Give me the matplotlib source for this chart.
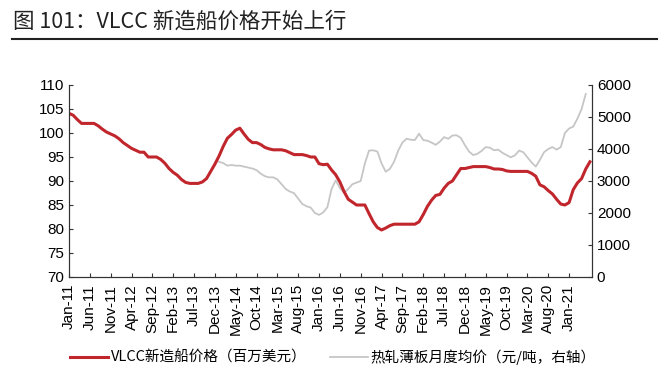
import numpy as np
import pandas as pd
import matplotlib
matplotlib.use("Agg")
import matplotlib.pyplot as plt
from matplotlib.lines import Line2D

# monthly data, Jan-11 .. Jun-21
months = pd.date_range("2011-01-01", periods=126, freq="MS")

vlcc_price = [
    104.1, 103.7, 102.8, 102.0, 102.0, 102.0, 102.0, 101.5, 100.8, 100.2,
    99.8, 99.4, 98.8, 98.0, 97.4, 96.8, 96.4, 96.0, 96.0, 95.0,
    95.0, 95.0, 94.5, 93.7, 92.6, 91.8, 91.2, 90.3, 89.7, 89.5,
    89.5, 89.5, 89.8, 90.5, 92.0, 93.5, 95.2, 97.2, 98.9, 99.7,
    100.6, 101.0, 99.8, 98.7, 98.0, 98.0, 97.6, 97.0, 96.7, 96.5,
    96.5, 96.5, 96.3, 95.9, 95.5, 95.5, 95.5, 95.3, 95.0, 95.0,
    93.6, 93.4, 93.5, 92.3, 91.3, 89.8, 87.8, 86.2, 85.6, 85.0,
    85.0, 85.0, 83.2, 81.5, 80.3, 79.8, 80.2, 80.7, 81.0, 81.0,
    81.0, 81.0, 81.0, 81.0, 81.5, 83.0, 84.7, 86.0, 87.0, 87.2,
    88.5, 89.5, 90.0, 91.3, 92.6, 92.6, 92.8, 93.0, 93.0, 93.0,
    93.0, 92.8, 92.5, 92.5, 92.4, 92.1, 92.0, 92.0, 92.0, 92.0,
    92.0, 91.6, 91.0, 89.2, 88.8, 88.0, 87.3, 86.2, 85.2, 85.0,
    85.5, 88.2, 89.6, 90.5, 92.5, 94.0,
]

# hot-rolled sheet monthly avg price, starts Jan-14 (index 36)
steel_start = 36
steel_price = [
    3600, 3560, 3480, 3500, 3480, 3480, 3450, 3420, 3390, 3340,
    3230, 3150, 3115, 3115, 3050, 2900, 2750, 2670, 2620, 2450,
    2280, 2210, 2170, 2000, 1940, 2020, 2180, 2750, 3020, 2780,
    2630, 2750, 2900, 2950, 3000, 3550, 3950, 3960, 3920, 3550,
    3290, 3380, 3600, 3950, 4200, 4320, 4290, 4280, 4480, 4280,
    4260, 4200, 4130, 4230, 4370, 4320, 4420, 4430, 4350, 4120,
    3920, 3810, 3850, 3940, 4060, 4040, 3960, 3980, 3880, 3810,
    3740, 3800, 3950, 3900, 3740, 3580, 3450, 3660, 3900, 4000,
    4060, 3980, 4060, 4500, 4640, 4700, 4950, 5250, 5720,
]

tick_labels = [d.strftime("%b-%y") for d in months]

plt.rcParams["font.family"] = ["Liberation Sans", "Noto Sans CJK SC"]
cjk = ["Noto Sans CJK SC", "DejaVu Sans"]

red = "#c0262c"
grey = "#c6c6c6"

fig = plt.figure(figsize=(6.66, 3.77), dpi=100)
ax = fig.add_axes([69 / 666, 1 - 277 / 377, (592 - 69) / 666, (277 - 85) / 377])
ax2 = ax.twinx()

x = np.arange(len(vlcc_price))
xs = np.arange(steel_start, steel_start + len(steel_price))
ax2.plot(xs, steel_price, color=grey, lw=1.3)
ax.plot(x, vlcc_price, color=red, lw=2.2)
ax.set_zorder(ax2.get_zorder() + 1)
ax.patch.set_visible(False)

ax.set_xlim(0, 125.5)
ax.set_ylim(70, 110)
ax.set_yticks(range(70, 111, 5))
ax2.set_ylim(0, 6000)
ax2.set_yticks(range(0, 6001, 1000))

ticks = list(range(0, 121, 5))
ax.set_xticks(ticks)
ax.set_xticklabels([tick_labels[i] for i in ticks], rotation=90)

for a in (ax, ax2):
    a.spines["top"].set_visible(False)
    a.tick_params(direction="in", length=3, labelsize=11, color="#333333")
    for s in a.spines.values():
        s.set_color("#333333")
ax.tick_params(axis="x", pad=5)

# title and rule
fig.text(13 / 666, 1 - 22 / 377, "图 101：VLCC 新造船价格开始上行", family=cjk,
         fontsize=15.5, va="center", ha="left", color="#222222")
fig.add_artist(Line2D([12 / 666, 657 / 666], [1 - 39 / 377, 1 - 39 / 377],
                      color="#222222", lw=1.5))

handles = [Line2D([], [], color=red, lw=2.2), Line2D([], [], color=grey, lw=1.3)]
labels = ["VLCC新造船价格（百万美元）", "热轧薄板月度均价（元/吨，右轴）"]
fig.legend(handles, labels, loc="center", bbox_to_anchor=(0.5, 1 - 357 / 377),
           ncol=2, frameon=False, prop={"family": cjk, "size": 10.5},
           handlelength=2.6, handletextpad=0.2, columnspacing=1.6)

fig.savefig("out.png", dpi=100)
